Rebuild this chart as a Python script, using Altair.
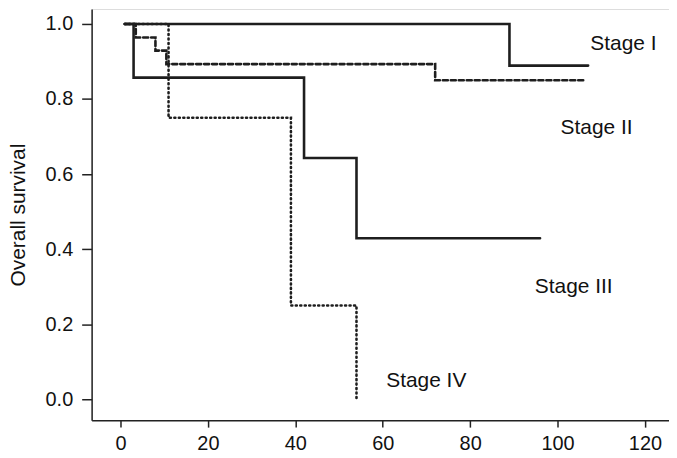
import altair as alt
import pandas as pd

# Kaplan-Meier step curves (months, overall survival)
stage1_t = [1, 89, 107]
stage1_s = [1.0, 0.889, 0.889]
stage2_t = [1, 3.5, 8, 10.5, 72, 106]
stage2_s = [1.0, 0.964, 0.929, 0.893, 0.850, 0.850]
stage3_t = [1, 3, 42, 54, 96]
stage3_s = [1.0, 0.857, 0.643, 0.429, 0.429]
stage4_t = [1, 11, 39, 54]
stage4_s = [1.0, 0.75, 0.25, 0.0]

label_text = ["Stage I", "Stage II", "Stage III", "Stage IV"]
label_x = [107.5, 100.7, 94.8, 60.8]
label_y = [0.947, 0.724, 0.300, 0.048]

x_ticks = [0, 20, 40, 60, 80, 100, 120]
y_ticks = [0.0, 0.2, 0.4, 0.6, 0.8, 1.0]

rows = []
for name, ts, ss in [("Stage I", stage1_t, stage1_s), ("Stage II", stage2_t, stage2_s),
                     ("Stage III", stage3_t, stage3_s), ("Stage IV", stage4_t, stage4_s)]:
    for t, s in zip(ts, ss):
        rows.append({"stage": name, "t": t, "s": s})
df = pd.DataFrame(rows)
lab = pd.DataFrame({"text": label_text, "x": label_x, "y": label_y})

FONT = "Liberation Sans"
xs = alt.Scale(domain=[-6.6, 125.5], nice=False, zero=False)
ys = alt.Scale(domain=[-0.0557, 1.0398], nice=False, zero=False)

lines = alt.Chart(df).mark_line(interpolate="step-after", color="#1e1e1e", strokeWidth=2.6,
                                strokeCap="round").encode(
    x=alt.X("t:Q", scale=xs, axis=alt.Axis(values=x_ticks, title=None, grid=False,
                                           tickSize=7, labelPadding=6, labelFontSize=20,
                                           labelFont=FONT, labelColor="#111", domainColor="#222",
                                           tickColor="#222", domainWidth=1.5, tickWidth=1.5,
                                           labelFlush=False)),
    y=alt.Y("s:Q", scale=ys, axis=alt.Axis(values=y_ticks, format=".1f", title="Overall survival",
                                           grid=False, tickSize=10, labelPadding=9, labelFontSize=20,
                                           labelFont=FONT, labelColor="#111", domainColor="#222",
                                           tickColor="#222", domainWidth=1.5, tickWidth=1.5,
                                           titleFont=FONT, titleFontSize=21, titleFontWeight="normal",
                                           titleColor="#111", titlePadding=17, labelFlush=False)),
    strokeDash=alt.StrokeDash("stage:N", scale=alt.Scale(
        domain=["Stage I", "Stage II", "Stage III", "Stage IV"],
        range=[[1, 0], [5, 3], [1, 0], [1, 3.5]]), legend=None),
    detail="stage:N",
)

texts = alt.Chart(lab).mark_text(align="left", baseline="middle", font=FONT, fontSize=21,
                                 color="#111").encode(
    x=alt.X("x:Q", scale=xs), y=alt.Y("y:Q", scale=ys), text="text:N")

chart = alt.layer(lines, texts).properties(
    width=580, height=413,
    autosize=alt.AutoSizeParams(type="none"),
    padding={"left": 84, "top": 0, "right": 0, "bottom": 40},
).configure_view(stroke=None).configure(background="white")

chart.save("out.html", embed_options={"renderer": "svg", "actions": False})
